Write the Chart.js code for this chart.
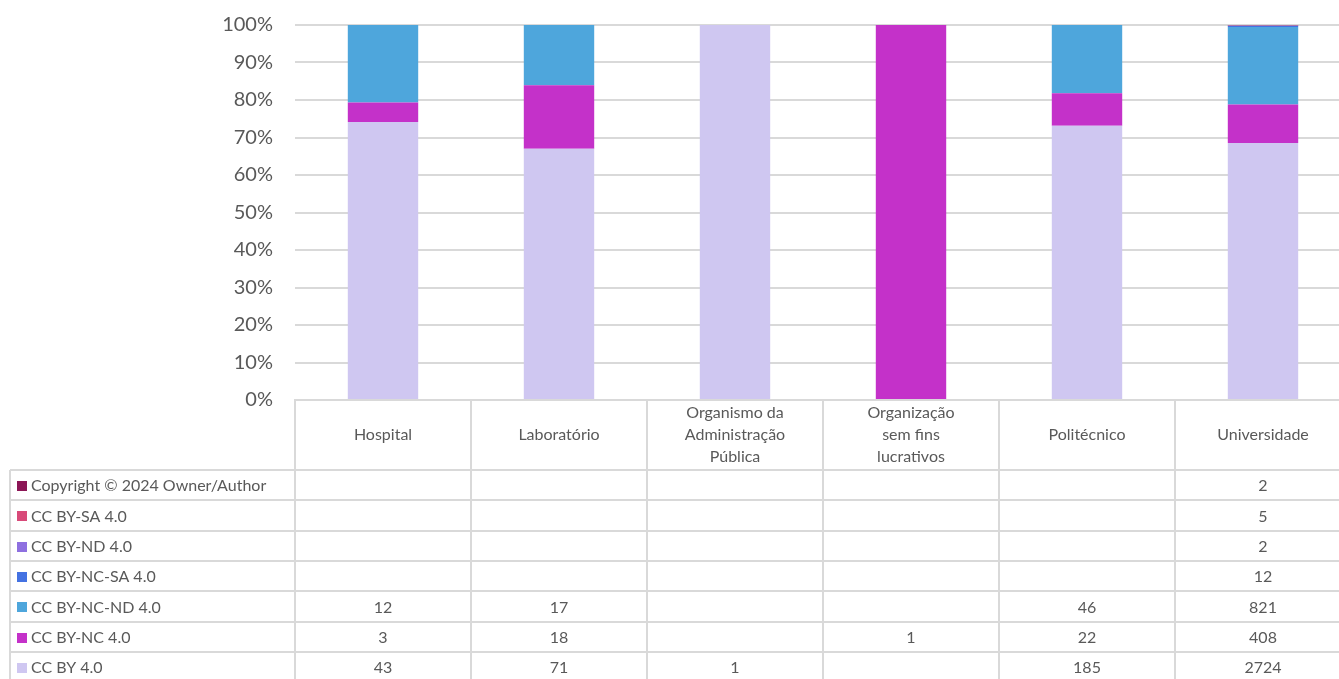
<!DOCTYPE html>
<html><head><meta charset="utf-8">
<script src="https://cdn.jsdelivr.net/npm/chart.js@4/dist/chart.umd.min.js"></script>
<style>html,body{margin:0;padding:0;background:#fff;overflow:hidden;}#wrap{width:1339px;height:679px;overflow:hidden;}</style>
</head><body><div id="wrap"><canvas id="c" width="1351" height="679"></canvas></div>
<script>
const categories = [["Hospital"],["Laboratório"],["Organismo da","Administração","Pública"],["Organização","sem fins","lucrativos"],["Politécnico"],["Universidade"]];
// series, bottom to top in stack
const seriesNames = ["CC BY 4.0","CC BY-NC 4.0","CC BY-NC-ND 4.0","CC BY-NC-SA 4.0","CC BY-ND 4.0","CC BY-SA 4.0","Copyright © 2024 Owner/Author"];
const ccBy      = [43, 71, 1, null, 185, 2724];
const ccByNc    = [3, 18, null, 1, 22, 408];
const ccByNcNd  = [12, 17, null, null, 46, 821];
const ccByNcSa  = [null, null, null, null, null, 12];
const ccByNd    = [null, null, null, null, null, 2];
const ccBySa    = [null, null, null, null, null, 5];
const copyright = [null, null, null, null, null, 2];
const seriesValues = [ccBy, ccByNc, ccByNcNd, ccByNcSa, ccByNd, ccBySa, copyright];
const colors = ["#CFC7F1","#C431C9","#4EA6DC","#4472E2","#8E70E0","#D84A79","#8C1656"];
const yTicks = [0,10,20,30,40,50,60,70,80,90,100];

const totals = categories.map((_, i) => seriesValues.reduce((s, arr) => s + (arr[i] || 0), 0));
const datasets = seriesNames.map((name, k) => ({
  label: name,
  data: seriesValues[k].map((v, i) => v ? v / totals[i] * 100 : 0),
  backgroundColor: colors[k],
  borderWidth: 0,
  categoryPercentage: 1,
  barPercentage: 0.4,
  stack: 's'
}));

const FONT = "Lato, 'Open Sans', sans-serif";
const TXT = "#595959";
const LINE = "#d9d9d9";

const tablePlugin = {
  id: 'dataTable',
  afterDraw(chart) {
    const ctx = chart.ctx;
    const xs = chart.scales.x;
    const area = chart.chartArea;
    const left = area.left, right = area.right;
    const top = area.bottom;
    const headerBottom = 470;
    const rowH = 30.3;
    const legendLeft = 10;
    const n = categories.length;
    const colW = (right - left) / n;
    ctx.save();
    ctx.strokeStyle = LINE;
    ctx.lineWidth = 2;
    for (let i = 0; i <= n; i++) {
      const x = Math.round(left + i * colW);
      ctx.beginPath(); ctx.moveTo(x, top); ctx.lineTo(x, 679); ctx.stroke();
    }
    ctx.beginPath(); ctx.moveTo(legendLeft, headerBottom); ctx.lineTo(legendLeft, 679); ctx.stroke();
    const rows = seriesNames.length;
    for (let r = 0; r <= rows; r++) {
      const y = Math.round(headerBottom + r * rowH);
      ctx.beginPath(); ctx.moveTo(legendLeft, y); ctx.lineTo(right, y); ctx.stroke();
    }
    ctx.fillStyle = TXT;
    ctx.font = "16px " + FONT;
    ctx.textAlign = 'center';
    ctx.textBaseline = 'middle';
    const hc = (top + headerBottom) / 2;
    categories.forEach((lines, i) => {
      const cx = xs.getPixelForValue(i);
      const lh = 22;
      lines.forEach((ln, j) => {
        ctx.fillText(ln, cx, hc + (j - (lines.length - 1) / 2) * lh);
      });
    });
    for (let r = 0; r < rows; r++) {
      const k = rows - 1 - r;
      const cy = headerBottom + r * rowH + rowH / 2 + 1;
      ctx.fillStyle = colors[k];
      ctx.fillRect(legendLeft + 7, Math.round(cy - 5), 10, 10);
      ctx.fillStyle = TXT;
      ctx.textAlign = 'left';
      ctx.fillText(seriesNames[k], legendLeft + 21, cy);
      ctx.textAlign = 'center';
      seriesValues[k].forEach((v, i) => {
        if (v !== null && v !== undefined) ctx.fillText(String(v), xs.getPixelForValue(i), cy);
      });
    }
    ctx.restore();
  }
};

new Chart(document.getElementById('c'), {
  type: 'bar',
  data: { labels: categories.map(c => c.join(' ')), datasets },
  options: {
    responsive: false,
    animation: false,
    layout: { padding: { top: 25, right: 0, left: 0, bottom: 0 } },
    plugins: { legend: { display: false }, tooltip: { enabled: false } },
    scales: {
      x: {
        stacked: true,
        grid: { display: false, drawTicks: false },
        border: { display: true, color: LINE, width: 2 },
        ticks: { display: false },
        afterFit: s => { s.height = 279; s.paddingLeft = 0; s.paddingRight = 0; }
      },
      y: {
        stacked: true,
        min: 0, max: 100,
        afterBuildTicks: s => { s.ticks = yTicks.map(v => ({ value: v })); },
        grid: { color: LINE, lineWidth: 2, drawTicks: false },
        border: { display: false },
        ticks: { color: TXT, font: { family: FONT, size: 20 }, padding: 22, callback: v => v + '%' },
        afterFit: s => { s.width = 295; s.paddingTop = 0; s.paddingBottom = 0; }
      }
    }
  },
  plugins: [tablePlugin]
});
</script>
</body></html>
